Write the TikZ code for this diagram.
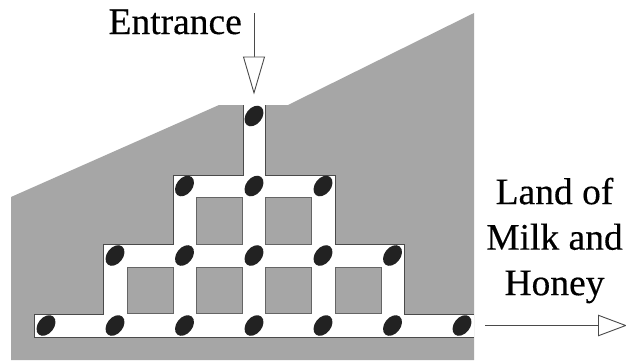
\documentclass[tikz,border=0pt]{standalone}
\usepackage{fontspec}
\setmainfont[FakeBold=0.35]{Liberation Serif}
\usetikzlibrary{shapes.geometric,arrows.meta}
\definecolor{rock}{HTML}{A6A6A6}
\definecolor{edge}{HTML}{4A4A4A}
\definecolor{spot}{HTML}{222222}
\tikzset{
  rockfill/.style={fill=rock,draw=none},
  corridor/.style={fill=white,draw=none},
  wall/.style={draw=edge,line width=1pt,line join=miter},
  pillar/.style={fill=rock,draw=edge!85!white,line width=1pt},
  spot/.style={ellipse,fill=spot,draw=none,minimum width=23pt,minimum height=16pt,inner sep=0pt,rotate=52},
  label/.style={font=\fontsize{37.5}{45.5}\selectfont,text=black,inner sep=0pt},
  flow/.style={draw=edge,line width=0.9pt},
}
\begin{document}
\begin{tikzpicture}[x=1pt,y=-1pt]
\useasboundingbox (0,0) rectangle (626,360);
\fill[white] (0,0) rectangle (626,360);
\clip (0,0) rectangle (626,360);
\path[rockfill] (11,197) -- (219,105) -- (288,105) -- (474,13) -- (474,360) -- (11,360) -- cycle;
% corridor floor
\path[corridor] (243,105) rectangle (265.5,175);
\path[corridor] (173.5,175) rectangle (335,244.3);
\path[corridor] (103.7,244.3) rectangle (404.3,314);
\path[corridor] (34,314) rectangle (473.5,337);
% corridor walls
\draw[wall] (243,105) -- (243,175) -- (173.5,175) -- (173.5,244.3) -- (103.7,244.3) -- (103.7,314) -- (34,314) -- (34,337) -- (473.5,337);
\draw[wall] (265.5,105) -- (265.5,175) -- (335,175) -- (335,244.3) -- (404.3,244.3) -- (404.3,314) -- (473.5,314);
% pillars
\foreach \x in {196.3,265.5} \path[pillar] (\x,197.7) rectangle ++(46.4,46.6);
\foreach \x in {127,196.3,265.5,335} \path[pillar] (\x,267.3) rectangle ++(46.4,46.6);
% spots
\node[spot] (s1) at (254,116) {};
\node[spot] (s2a) at (184.5,186) {};
\node[spot] (s2b) at (254,186) {};
\node[spot] (s2c) at (323,186) {};
\node[spot] (s3a) at (115,255.5) {};
\node[spot] (s3b) at (184.5,255.5) {};
\node[spot] (s3c) at (254,255.5) {};
\node[spot] (s3d) at (323,255.5) {};
\node[spot] (s3e) at (392.5,255.5) {};
\node[spot] (s4a) at (46,325.5) {};
\node[spot] (s4b) at (115,325.5) {};
\node[spot] (s4c) at (184.5,325.5) {};
\node[spot] (s4d) at (254,325.5) {};
\node[spot] (s4e) at (323,325.5) {};
\node[spot] (s4f) at (392.5,325.5) {};
\node[spot] (s4g) at (462,325.5) {};
% labels
\node[label,anchor=base east] (entrance) at (242,34) {Entrance};
\node[label,align=center] (land) at (554.5,240.5) {Land of\\Milk and\\Honey};
% arrows
\coordinate (inA) at (254,13);
\coordinate (inB) at (254,94.5);
\coordinate (outA) at (485,325.5);
\coordinate (outB) at (627,325.5);
\draw[flow,-{Triangle[length=38pt,width=22pt,fill=white,line width=0.9pt]}] (inA) -- (inB);
\draw[flow,-{Triangle[length=29pt,width=21.5pt,fill=white,line width=0.9pt]}] (outA) -- (outB);
\end{tikzpicture}
\end{document}
